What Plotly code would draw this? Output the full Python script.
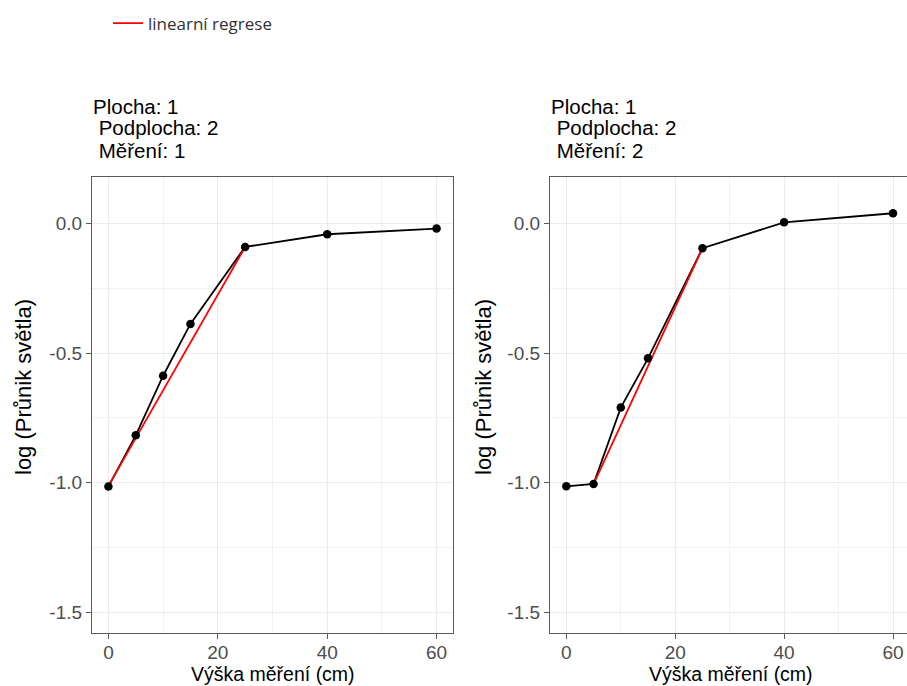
import plotly.graph_objects as go

# ---- data ----
vyska = [0, 5, 10, 15, 25, 40, 60]
mereni1 = [-1.015, -0.817, -0.587, -0.387, -0.090, -0.041, -0.019]
mereni2 = [-1.014, -1.005, -0.710, -0.520, -0.095, 0.005, 0.040]
regrese1_x = [0, 25]
regrese1_y = [-1.012, -0.090]
regrese2_x = [5, 25]
regrese2_y = [-1.005, -0.095]
panel_title_lines = [["Plocha: 1", "\u00a0Podplocha: 2", "\u00a0Měření: 1"],
                     ["Plocha: 1", "\u00a0Podplocha: 2", "\u00a0Měření: 2"]]
x_ticks = [0, 20, 40, 60]
y_ticks = [-1.5, -1.0, -0.5, 0.0]
y_tick_labels = ["-1.5", "-1.0", "-0.5", "0.0"]
legend_name = "linearní regrese"
x_title = "Výška měření (cm)"
y_title = "log (Průnik světla)"

W, H = 907, 686
FONT = "Liberation Sans, Arial, sans-serif"
BORDER = "#5a5a5a"

def px(x):
    return x / W

def py(y):
    return 1 - y / H

fig = go.Figure()

panels = [(vyska, mereni1, regrese1_x, regrese1_y, "x", "y"),
          (vyska, mereni2, regrese2_x, regrese2_y, "x2", "y2")]
for i, (xv, yv, rx, ry, xa, ya) in enumerate(panels):
    fig.add_trace(go.Scatter(x=xv, y=yv, mode="lines", line=dict(color="black", width=1.8),
                             showlegend=False, xaxis=xa, yaxis=ya, hoverinfo="skip"))
    fig.add_trace(go.Scatter(x=rx, y=ry, mode="lines", line=dict(color="#ff0000", width=1.8),
                             name=legend_name, legendgroup="reg", showlegend=(i == 0),
                             xaxis=xa, yaxis=ya))
    fig.add_trace(go.Scatter(x=xv, y=yv, mode="markers", marker=dict(color="black", size=8.5),
                             showlegend=False, xaxis=xa, yaxis=ya))

tickfont = dict(family=FONT, size=19, color="#4d4d4d")
common_x = dict(tickvals=x_ticks, ticks="outside", ticklen=5, tickcolor=BORDER, tickwidth=1,
                tickfont=tickfont, ticklabelstandoff=-3,
                showline=True, linecolor=BORDER, linewidth=1.2, mirror=True,
                showgrid=True, gridcolor="#ebebeb", gridwidth=1.2, zeroline=False,
                minor=dict(dtick=10, showgrid=True, gridcolor="#f2f2f2", gridwidth=1, ticks=""))
common_y = dict(tickvals=y_ticks, ticktext=y_tick_labels, range=[-1.58, 0.18],
                ticks="outside", ticklen=5, tickcolor=BORDER, tickwidth=1,
                tickfont=tickfont,
                showline=True, linecolor=BORDER, linewidth=1.2,
                showgrid=True, gridcolor="#ebebeb", gridwidth=1.2, zeroline=False,
                minor=dict(dtick=0.25, showgrid=True, gridcolor="#f2f2f2", gridwidth=1, ticks=""))

y_dom = [py(633), py(177)]
fig.update_layout(
    xaxis=dict(domain=[px(92), px(453)], range=[-3, 63], anchor="y", **common_x),
    yaxis=dict(domain=y_dom, anchor="x", mirror=True, **common_y),
    xaxis2=dict(domain=[px(550), 1.0], range=[-3, 62.57], anchor="y2", **common_x),
    yaxis2=dict(domain=y_dom, anchor="x2", mirror=False, **common_y),
)

annotations = []
for left, lines in zip([91, 549], panel_title_lines):
    for line, yc in zip(lines, [106, 128, 150]):
        annotations.append(dict(text=line, x=px(left), y=py(yc), xref="paper", yref="paper",
                                xanchor="left", yanchor="middle", align="left", showarrow=False,
                                font=dict(family=FONT, size=20.5, color="black")))
for cx in [272.5, 730.5]:
    annotations.append(dict(text=x_title, x=px(cx), y=py(673.5), xref="paper", yref="paper",
                            xanchor="center", yanchor="middle", showarrow=False,
                            font=dict(family=FONT, size=19.5, color="black")))
for cx in [23, 483]:
    annotations.append(dict(text=y_title, x=px(cx), y=py(387), xref="paper", yref="paper",
                            xanchor="center", yanchor="middle", showarrow=False, textangle=-90,
                            font=dict(family=FONT, size=22, color="black")))

fig.update_layout(
    width=W, height=H,
    margin=dict(l=0, r=0, t=0, b=0),
    paper_bgcolor="white", plot_bgcolor="white",
    annotations=annotations,
    showlegend=True,
    legend=dict(x=px(108), y=py(5.5), xanchor="left", yanchor="top", orientation="h",
                font=dict(family="Open Sans, sans-serif", size=17, color="#333333"),
                bgcolor="rgba(0,0,0,0)", itemwidth=30),
)

fig.write_html("out.html", config={"displayModeBar": False},
               post_script="document.body.style.margin='0';")
